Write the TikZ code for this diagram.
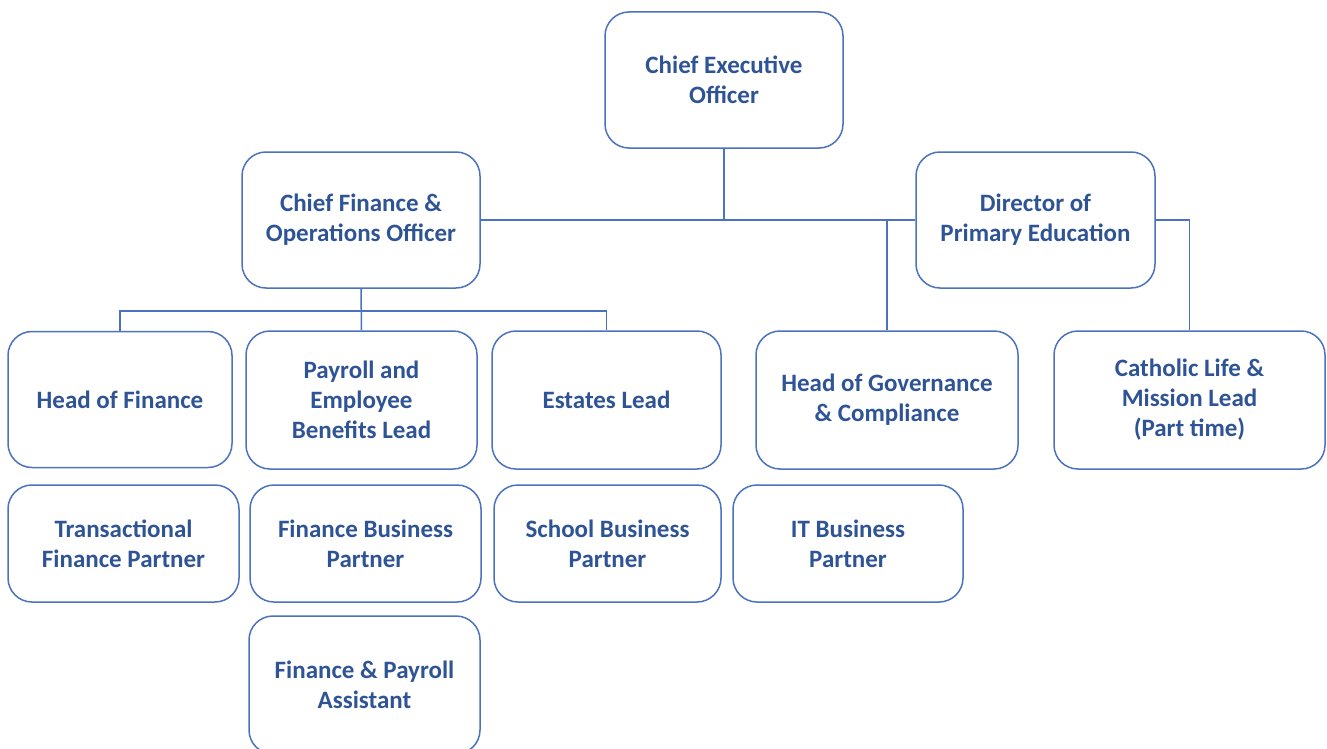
\documentclass[tikz,border=0pt]{standalone}
\usepackage{fontspec}
\setmainfont{Carlito}
\usetikzlibrary{positioning,calc}
\definecolor{orgtext}{HTML}{2F5496}
\definecolor{orgblue}{HTML}{4A72BE}
\tikzset{
orgbox/.style={
  rectangle,
  rounded corners=12pt,
  line width=0.75pt,
  draw=orgblue,
  fill=white,
  align=center,
  text=orgtext,
  font=\fontsize{12.5}{15}\selectfont\bfseries,
  minimum height=68pt,
  }
}
\tikzset{
orgline/.style={
  line width=0.75pt,
  draw=orgblue,
  }
}

\begin{document}
\begin{tikzpicture}[x=0.5pt,y=-0.5pt]
    \useasboundingbox (0,0) rectangle (1327,749);
    \clip (0,0) rectangle (1327,749);

    % top level
    \node[orgbox, minimum width=119pt] (ceo) at (724,80) {Chief Executive\\Officer};
    \node[orgbox, minimum width=119pt] (cfo) at (361,220) {Chief Finance \&\\Operations Officer};
    \node[orgbox, minimum width=119.5pt] (dpe) at (1035.5,220) {Director of\\Primary Education};

    % finance part
    \node[orgbox, minimum width=112pt] (hof) at (120,399.5) {Head of Finance};
    \node[orgbox, minimum width=115.5pt, minimum height=69pt] (payroll) at (361.5,400) {Payroll and\\Employee\\Benefits Lead};
    \node[orgbox, minimum width=114.5pt, minimum height=69pt] (estates) at (606.5,400) {Estates Lead};
    \node[orgbox, minimum width=115.5pt, minimum height=58.5pt] (tfp) at (123.5,543.5) {Transactional\\Finance Partner};
    \node[orgbox, minimum width=115.5pt, minimum height=58.5pt] (fbp) at (365.5,543.5) {Finance Business\\Partner};
    \node[orgbox, minimum width=113.5pt, minimum height=58.5pt] (sbp) at (607.5,543.5) {School Business\\Partner};
    \node[orgbox, minimum width=115.5pt, minimum height=69pt] (fpa) at (364.5,685) {Finance \& Payroll\\Assistant};

    % education part
    \node[orgbox, minimum width=131pt, minimum height=69pt] (gov) at (887,400) {Head of Governance\\\& Compliance};
    \node[orgbox, minimum width=135.5pt, minimum height=69pt] (cath) at (1189.5,400) {Catholic Life \&\\Mission Lead\\(Part time)};
    \node[orgbox, minimum width=115pt, minimum height=58.5pt] (itbp) at (848,543.5) {IT Business\\Partner};

    % top edges
    \draw[orgline] (cfo.east) -- (dpe.west);
    \draw[orgline] (ceo.south) -- (ceo.south |- cfo.east);

    % finance edges
    \coordinate (finbus) at (0,311);
    \draw[orgline] (cfo.south) -- (payroll.north);
    \draw[orgline] (hof.north) -- (hof.north |- finbus) -- (estates.north |- finbus) -- (estates.north);

    % education edges
    \draw[orgline] (gov.north) -- (gov.north |- dpe.west);
    \draw[orgline] (dpe.east) -| (cath.north);
\end{tikzpicture}
\end{document}
